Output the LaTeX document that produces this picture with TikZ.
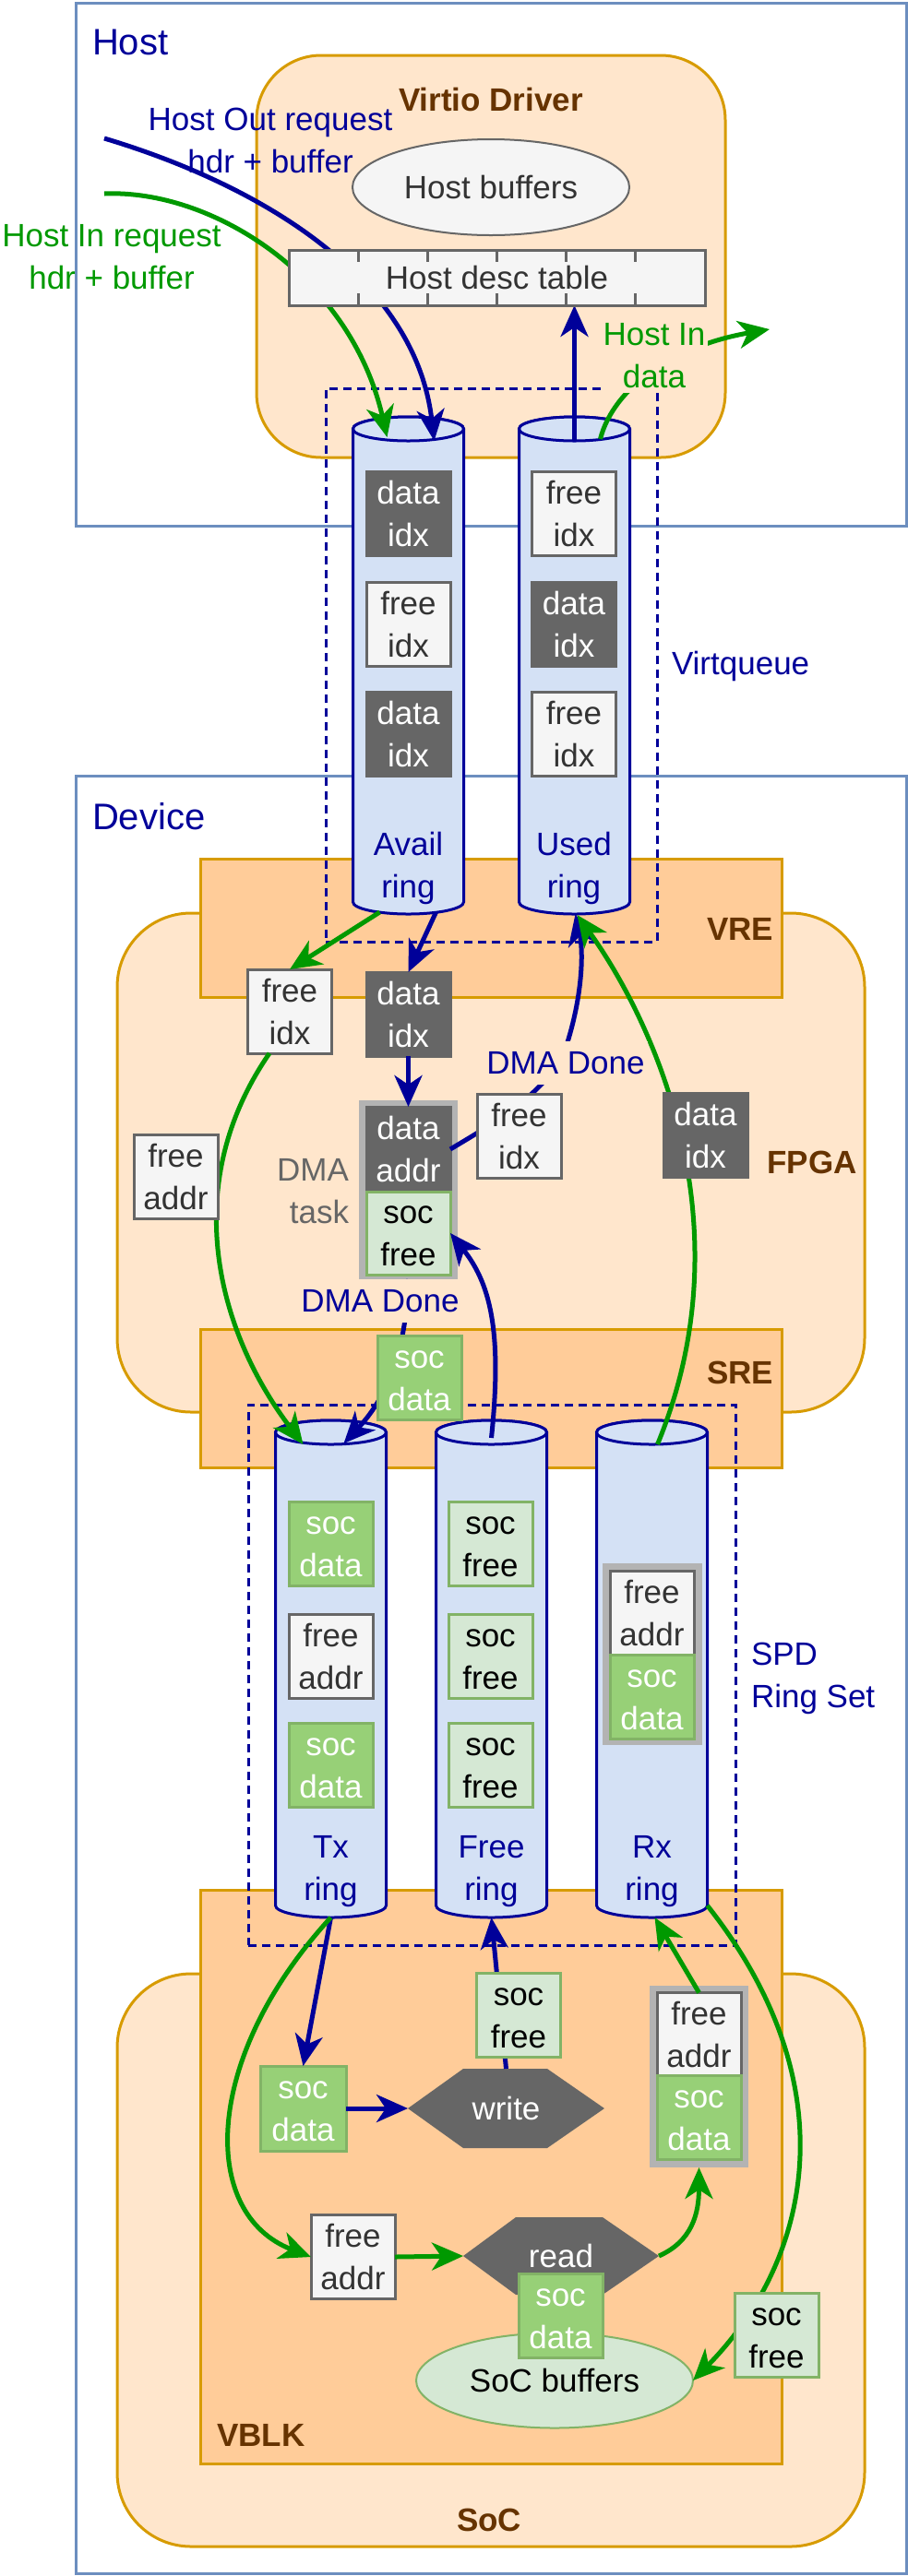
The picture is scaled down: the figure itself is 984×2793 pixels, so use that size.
\documentclass[tikz,border=0pt]{standalone}
\usepackage{fontspec}
\setmainfont{Liberation Sans}
\usetikzlibrary{arrows.meta,calc,shapes.geometric}
\pgfdeclarelayer{front}
\pgfsetlayers{main,front}
\definecolor{cpeach}{HTML}{FFE6CC}
\definecolor{corange}{HTML}{FFCC99}
\definecolor{cstroke}{HTML}{D79B00}
\definecolor{chost}{HTML}{6C8EBF}
\definecolor{cblue}{HTML}{000099}
\definecolor{cgreen}{HTML}{009900}
\definecolor{cbrown}{HTML}{663300}
\definecolor{ccyl}{HTML}{D4E1F5}
\definecolor{cgrey}{HTML}{666666}
\definecolor{cwhite}{HTML}{F5F5F5}
\definecolor{ctext}{HTML}{333333}
\definecolor{cdg}{HTML}{97D077}
\definecolor{cgs}{HTML}{82B366}
\definecolor{clg}{HTML}{D5E8D4}
\definecolor{cframe}{HTML}{B3B3B3}
\newcommand{\fs}{\fontsize{35}{46}\selectfont}
\newcommand{\fL}{\fontsize{40}{48}\selectfont}
\newcommand{\two}[2]{\rule{0pt}{25pt}#1\\#2}
\newcommand{\one}[1]{\rule{0pt}{25pt}#1}
\newcommand{\mkcyl}[4]{%
  \node[cylbody, minimum height={#4-#3}] (#1) at (#2,{(#3+#4)/2}) {};
  \path[cyl] (#1.north west) -- (#1.south west)
     arc[start angle=180, end angle=360, x radius=60pt, y radius=13pt]
     -- (#1.north east)
     arc[start angle=0, end angle=180, x radius=60pt, y radius=13pt] -- cycle;
  \path[cyl] (#1.north) ellipse [x radius=60pt, y radius=13pt];
}
\begin{document}
\begin{tikzpicture}[x=1pt,y=-1pt,
  every node/.style={inner sep=0pt, outer sep=0pt, font=\fs, text depth=0pt, align=center},
  hostframe/.style={rectangle, draw=chost, line width=3pt},
  roundbox/.style={rectangle, draw=cstroke, fill=cpeach, line width=3pt},
  orbox/.style={rectangle, draw=cstroke, fill=corange, line width=3pt},
  dashbox/.style={rectangle, draw=cblue, line width=3pt, dash pattern=on 9pt off 6pt},
  boxbase/.style={rectangle, line width=3pt, minimum width=91pt, minimum height=91pt},
  wbox/.style={boxbase, draw=cgrey, fill=cwhite, text=ctext},
  dbox/.style={boxbase, draw=cgrey, fill=cgrey, text=white},
  gbox/.style={boxbase, draw=cgs, fill=cdg, text=white},
  lbox/.style={boxbase, draw=cgs, fill=clg, text=black},
  grpframe/.style={rectangle, fill=cframe, draw=none},
  cylbody/.style={rectangle, minimum width=120pt, draw=none},
  cyl/.style={draw=cblue, fill=ccyl, line width=3pt},
  ttl/.style={font=\fs\bfseries, text=cbrown},
  lab/.style={fill=cpeach, text=cblue, inner xsep=3pt, inner ysep=11pt},
  ba/.style={draw=cblue, line width=5pt, -{Stealth[length=34pt, width=30pt, inset=10pt]}},
  ga/.style={draw=cgreen, line width=5pt, -{Stealth[length=34pt, width=30pt, inset=10pt]}}
]
\useasboundingbox (0,0) rectangle (984,2793);

% containers
\node[hostframe, minimum width=900, minimum height=567] (hostbox) at (532,286.5) {};
\node[hostframe, minimum width=900, minimum height=1949] (devbox) at (532,1815.5) {};
\node[roundbox, rounded corners=70pt, minimum width=508, minimum height=436] (virtio) at (532,278) {};
\node[roundbox, rounded corners=80pt, minimum width=810, minimum height=541] (fpga) at (532,1260.5) {};
\node[roundbox, rounded corners=80pt, minimum width=810, minimum height=621] (soc) at (532,2450.5) {};
\node[orbox, minimum width=630, minimum height=150] (vre) at (532,1006) {};
\node[orbox, minimum width=630, minimum height=150] (sre) at (532,1516) {};
\node[orbox, minimum width=630, minimum height=622] (vblk) at (532,2360) {};

% titles
\node[font=\fL, text=cblue, anchor=base west] (hostlbl) at (100,59) {Host};
\node[font=\fL, text=cblue, anchor=base west] (devlbl) at (100,899) {Device};
\node[ttl, anchor=base] (virtiolbl) at (532,120) {Virtio Driver};
\node[ttl, anchor=base] (fpgalbl) at (880,1272) {FPGA};
\node[ttl, anchor=base east] (vrelbl) at (838,1019) {VRE};
\node[ttl, anchor=base east] (srelbl) at (838,1500) {SRE};
\node[ttl, anchor=base west] (vblklbl) at (235,2652) {VBLK};
\node[ttl, anchor=base] (soclbl) at (530,2744) {SoC};
\node[text=cblue, anchor=base west] (vqlbl) at (728,731) {Virtqueue};
\node[text=cblue, anchor=west, align=left] (spdlbl) at (814,1815.5) {\two{SPD}{Ring Set}};
\node[text=cblue] (outlbl) at (293,151.5) {\two{Host Out request}{hdr + buffer}};
\node[text=cgreen] (inlbl) at (121,277.5) {\two{Host In request}{hdr + buffer}};
\node[text=cgrey, anchor=east, align=right] (dmatask) at (378,1291) {\two{DMA}{task}};

% host buffers
\node[ellipse, draw=cgrey, fill=cwhite, line width=2pt, text=ctext, minimum width=300, minimum height=104] (hostbuf) at (532,203) {\one{Host buffers}};

% dashed groups
\node[dashbox, minimum width=359, minimum height=600] (vq) at (532.5,721) {};
\node[dashbox, minimum width=528, minimum height=586] (spd) at (533,1816) {};

% cylinders
\mkcyl{avail}{442.5}{465}{978}
\mkcyl{used}{622.5}{465}{978}
\mkcyl{tx}{358.5}{1553}{2066}
\mkcyl{free}{532.5}{1553}{2066}
\mkcyl{rx}{706.5}{1553}{2066}

% virtqueue contents
\node[dbox] (av1) at (442.5,556.5) {\two{data}{idx}};
\node[wbox] (av2) at (442.5,676.5) {\two{free}{idx}};
\node[dbox] (av3) at (442.5,796) {\two{data}{idx}};
\node[text=cblue] (avlbl) at (442.5,938) {\two{Avail}{ring}};
\node[wbox] (us1) at (622,556.5) {\two{free}{idx}};
\node[dbox] (us2) at (622,676.5) {\two{data}{idx}};
\node[wbox] (us3) at (622,796) {\two{free}{idx}};
\node[text=cblue] (uslbl) at (622,938) {\two{Used}{ring}};

% FPGA contents
\node[wbox] (fidx) at (314,1096.5) {\two{free}{idx}};
\node[dbox] (didx) at (442.5,1099.5) {\two{data}{idx}};
\node[grpframe, minimum width=107, minimum height=194] (dmaframe) at (442.5,1290) {};
\node[dbox, minimum height=92] (daddr) at (442.5,1246) {\two{data}{addr}};
\node[lbox, minimum height=90] (sfree1) at (442.5,1337) {\two{soc}{free}};

% SPD ring contents
\node[gbox] (tx1) at (358.5,1674) {\two{soc}{data}};
\node[wbox] (tx2) at (358.5,1795.5) {\two{free}{addr}};
\node[gbox] (tx3) at (358.5,1913.5) {\two{soc}{data}};
\node[lbox] (fr1) at (531.5,1674) {\two{soc}{free}};
\node[lbox] (fr2) at (531.5,1795.5) {\two{soc}{free}};
\node[lbox] (fr3) at (531.5,1913.5) {\two{soc}{free}};
\node[grpframe, minimum width=108, minimum height=197] (rxframe) at (707,1793.5) {};
\node[wbox] (rx1) at (706.5,1748.5) {\two{free}{addr}};
\node[gbox] (rx2) at (706.5,1839.5) {\two{soc}{data}};
\node[text=cblue] (txlbl) at (358.5,2024.5) {\two{Tx}{ring}};
\node[text=cblue] (frlbl) at (532.5,2024.5) {\two{Free}{ring}};
\node[text=cblue] (rxlbl) at (706.5,2024.5) {\two{Rx}{ring}};

% VBLK contents
\node[gbox, minimum width=93, minimum height=92] (vsd) at (328.5,2286) {\two{soc}{data}};
\fill[cgrey] (442,2286) -- (502,2243) -- (593,2243) -- (655,2286) -- (593,2329) -- (502,2329) -- cycle;
\node[text=white, minimum width=213, minimum height=86] (write) at (548.5,2286) {\one{write}};
\node[grpframe, minimum width=107, minimum height=197] (vframe) at (757.5,2251.5) {};
\node[wbox] (vfa) at (757.5,2206) {\two{free}{addr}};
\node[gbox] (vsd2) at (757.5,2296) {\two{soc}{data}};
\node[wbox] (vfa2) at (382.5,2447) {\two{free}{addr}};
\fill[cgrey] (502,2446) -- (559,2404) -- (653,2404) -- (714,2446) -- (653,2488) -- (559,2488) -- cycle;
\node[text=white, minimum width=212, minimum height=84] (read) at (608,2446) {\one{read}};
\node[ellipse, draw=cgs, fill=clg, line width=2pt, text=black, minimum width=300, minimum height=103] (socbuf) at (601,2581) {\one{SoC buffers}};
\node[gbox] (rsd) at (607.5,2511) {\two{soc}{data}};

% nodes sitting on connectors
\begin{pgfonlayer}{front}
\node[rectangle, draw=cgrey, fill=cwhite, line width=3pt, text=ctext, minimum width=451, minimum height=60] (desctable) at (538.5,301) {\one{Host desc table}};
\foreach \k in {1,...,5} {
  \draw[cgrey, line width=3pt] ($(desctable.north west)+({75*\k},0)$) -- ++(0,13);
  \draw[cgrey, line width=3pt] ($(desctable.south west)+({75*\k},0)$) -- ++(0,-13);
}
\node[fill=cpeach, text=cgreen, inner xsep=3pt, inner ysep=6pt] (hidlbl) at (709,384.5) {\two{Host In}{data}};
\node[wbox] (fidx2) at (562.5,1232) {\two{free}{idx}};
\node[dbox] (didx2) at (764.5,1231) {\two{data}{idx}};
\node[wbox] (faddr) at (190.5,1276) {\two{free}{addr}};
\node[lab] (dd1) at (613,1152) {\one{DMA Done}};
\node[lab] (dd2) at (412,1410) {\one{DMA Done}};
\node[gbox] (sdata1) at (454.5,1494) {\two{soc}{data}};
\node[lbox] (vsf) at (562,2184.5) {\two{soc}{free}};
\node[lbox] (vsf2) at (841.5,2532) {\two{soc}{free}};
\end{pgfonlayer}

% free ends
\coordinate (hostout) at (113,150);
\coordinate (hostin) at (113,210);
\coordinate (hidend) at (834,357);

% connectors: host side
\draw[ba] (hostout) .. controls (280,200) and (450,300) .. ($(avail.north)+(28,13)$);
\draw[ga] (hostin) .. controls (230,205) and (380,300) .. ($(avail.north)+(-23,9)$);
\draw[ba] ($(used.north)+(0,13)$) -- (desctable.south -| used.north);
\draw[ga] ($(used.north)+(28,11)$) .. controls (665,420) and (730,375) .. (hidend);

% connectors: FPGA
\draw[ga] ($(avail.south)+(-31,11)$) -- (fidx.north);
\draw[ba] ($(avail.south)+(30,11)$) -- (didx.north);
\draw[ba] (didx.south) -- (daddr.north);
\draw[ba] (daddr.east) .. controls (540,1215) and (600,1180) .. (615,1130)
          .. controls (632,1075) and (632,1030) .. ($(used.south)+(1,13)$);
\draw[ga] ($(fidx.south)+(-22,0)$) .. controls (190,1290) and (240,1450) .. ($(tx.north)+(-30,13)$);
\draw[ba] (dmaframe.south) .. controls (440,1480) and (410,1525) .. ($(tx.north)+(14,12)$);
\draw[ba] ($(free.north)+(0,6)$) .. controls (545,1440) and (530,1390) .. (sfree1.east);
\draw[ga] ($(rx.north)+(6,13)$) .. controls (810,1330) and (710,1110) .. ($(used.south)+(3,14)$);

% connectors: VBLK
\draw[ba] ($(tx.south)+(0,13)$) -- (vsd.north);
\draw[ga] ($(tx.south)+(0,13)$) .. controls (220,2230) and (215,2400) .. (vfa2.west);
\draw[ba] (vsd.east) -- (write.west);
\draw[ba] (write.north) -- ($(free.south)+(0,13)$);
\draw[ga] (read.east) .. controls (750,2430) and (757.5,2400) .. (vframe.south);
\draw[ga] (vfa.north) -- ($(rx.south)+(3,13)$);
\draw[ga] ($(rx.south)+(60,0)$) .. controls (920,2260) and (880,2450) .. (socbuf.east);
\draw[ga] (vfa2.east) -- (read.west);
\end{tikzpicture}
\end{document}
